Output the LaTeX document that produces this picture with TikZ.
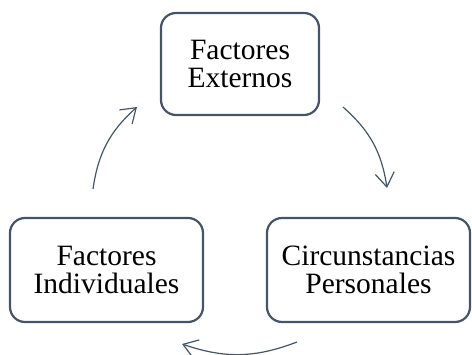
\documentclass[tikz,border=0pt]{standalone}
\usepackage{fontspec}
\setmainfont{Liberation Serif}
\usetikzlibrary{arrows.meta}
\definecolor{slate}{HTML}{44546A}
\tikzset{
  box/.style={draw=slate, line width=2.2pt, rounded corners=15pt, align=center,
    font=\fontsize{29.5}{28.5}\selectfont, inner sep=0pt},
  flow/.style={draw=slate, line width=1.2pt, -{Straight Barb[length=14pt,width=19pt,line width=1.2pt]}}
}
\begin{document}
\begin{tikzpicture}[x=1pt,y=-1pt]
\useasboundingbox (0,0) rectangle (472,355);
\node[box, minimum width=158pt, minimum height=102pt] (ext) at (240,64) {Factores\\Externos};
\node[box, minimum width=193pt, minimum height=104pt] (ind) at (106.5,270) {Factores\\Individuales};
\node[box, minimum width=203pt, minimum height=104pt] (cir) at (368.5,270) {Circunstancias\\Personales};
\coordinate (r1) at (343,107);
\coordinate (r2) at (387,188);
\coordinate (b1) at (297,342);
\coordinate (b2) at (182,344);
\coordinate (l1) at (93,189);
\coordinate (l2) at (137,107);
\draw[flow] (r1) to[bend left=20] (r2);
\draw[flow] (b1) to[bend left=20] (b2);
\draw[flow] (l1) to[bend left=20] (l2);
\end{tikzpicture}
\end{document}
